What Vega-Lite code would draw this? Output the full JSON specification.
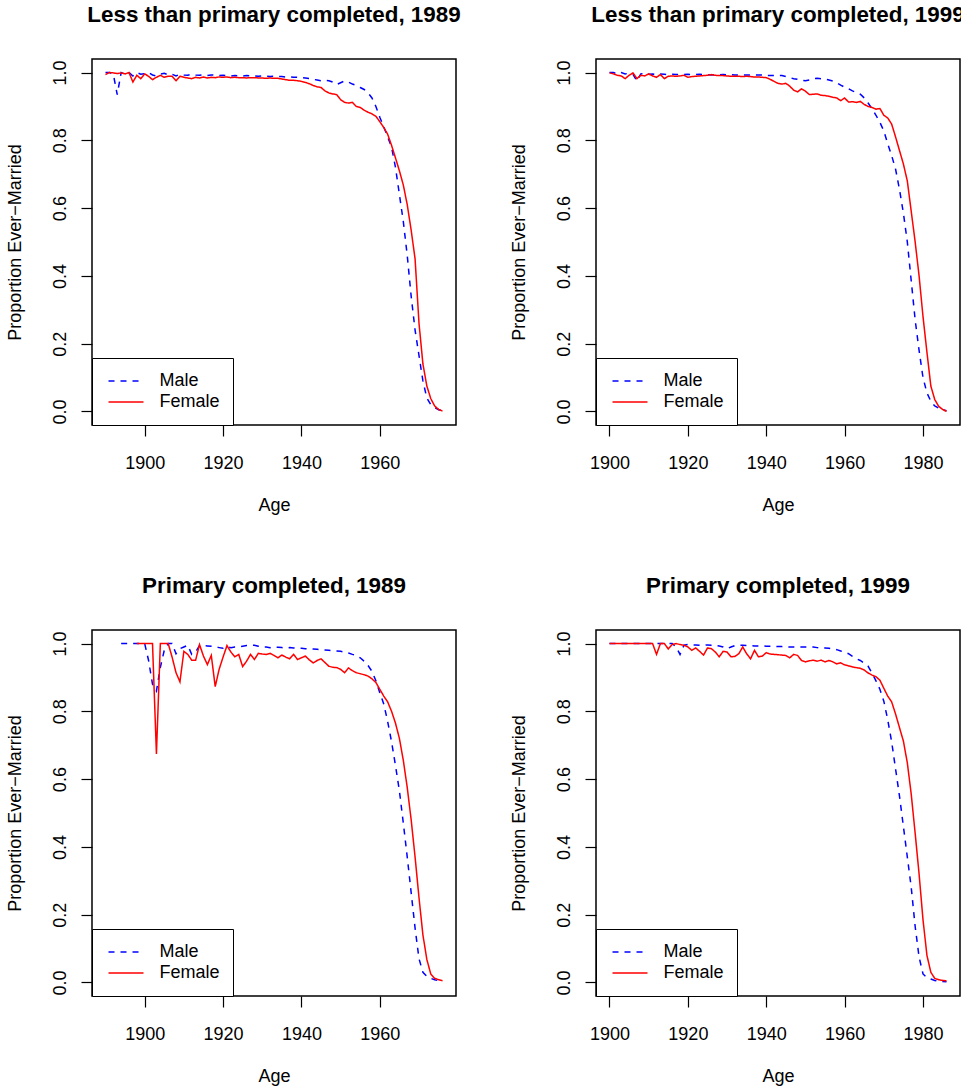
{
  "$schema": "https://vega.github.io/schema/vega-lite/v6.json",
  "background": "white",
  "padding": {"left": 5, "top": 2, "right": 0, "bottom": 0},
  "config": {
    "font": "Liberation Sans",
    "view": {"stroke": "black", "strokeWidth": 1.5},
    "axis": {"domain": false, "grid": false, "ticks": true, "tickColor": "black", "tickSize": 11, "tickWidth": 1.2, "labelFont": "Liberation Sans", "labelFontSize": 18, "labelColor": "black", "titleFont": "Liberation Sans", "titleFontSize": 18, "titleFontWeight": "normal", "titleColor": "black", "labelFlush": false, "labelOverlap": false},
    "axisX": {"labelBaseline": "alphabetic", "labelPadding": 32, "titleBaseline": "alphabetic", "titleY": 85},
    "axisY": {"labelAngle": -90, "labelAlign": "center", "labelBaseline": "alphabetic", "labelPadding": 15.4, "titleX": -72, "titleBaseline": "alphabetic", "titleAlign": "center"},
    "title": {"font": "Liberation Sans", "fontSize": 22.4, "fontWeight": "bold", "color": "black", "anchor": "middle", "baseline": "alphabetic", "offset": 33, "frame": "group"},
    "legend": {"orient": "bottom-left", "offset": 0, "padding": 12.5, "clipHeight": 21, "rowPadding": 0, "labelOffset": 15, "symbolOffset": 3, "strokeColor": "black", "fillColor": "white", "labelFont": "Liberation Sans", "labelFontSize": 18, "labelColor": "black", "symbolType": "stroke", "symbolSize": 1225, "symbolStrokeWidth": 1.5},
    "line": {"strokeWidth": 1.5}
  },
  "datasets": {
    "a": [
{"x":1890,"s":"Male","y":1.0},{"x":1891,"s":"Male","y":1.0},{"x":1892,"s":"Male","y":0.995},{"x":1893,"s":"Male","y":0.935},{"x":1894,"s":"Male","y":1.0},{"x":1895,"s":"Male","y":0.995},{"x":1896,"s":"Male","y":1.0},{"x":1897,"s":"Male","y":0.99},{"x":1898,"s":"Male","y":1.0},{"x":1899,"s":"Male","y":0.995},
{"x":1900,"s":"Male","y":0.997},{"x":1901,"s":"Male","y":1.0},{"x":1902,"s":"Male","y":0.993},{"x":1903,"s":"Male","y":0.99},{"x":1904,"s":"Male","y":0.995},{"x":1905,"s":"Male","y":0.998},{"x":1906,"s":"Male","y":0.993},{"x":1907,"s":"Male","y":0.995},{"x":1908,"s":"Male","y":0.99},{"x":1909,"s":"Male","y":0.995},
{"x":1910,"s":"Male","y":0.993},{"x":1911,"s":"Male","y":0.992},{"x":1912,"s":"Male","y":0.995},{"x":1913,"s":"Male","y":0.993},{"x":1914,"s":"Male","y":0.992},{"x":1915,"s":"Male","y":0.993},{"x":1916,"s":"Male","y":0.991},{"x":1917,"s":"Male","y":0.993},{"x":1918,"s":"Male","y":0.992},{"x":1919,"s":"Male","y":0.991},
{"x":1920,"s":"Male","y":0.992},{"x":1921,"s":"Male","y":0.991},{"x":1922,"s":"Male","y":0.99},{"x":1923,"s":"Male","y":0.991},{"x":1924,"s":"Male","y":0.99},{"x":1925,"s":"Male","y":0.99},{"x":1926,"s":"Male","y":0.991},{"x":1927,"s":"Male","y":0.99},{"x":1928,"s":"Male","y":0.99},{"x":1929,"s":"Male","y":0.989},
{"x":1930,"s":"Male","y":0.99},{"x":1931,"s":"Male","y":0.989},{"x":1932,"s":"Male","y":0.988},{"x":1933,"s":"Male","y":0.989},{"x":1934,"s":"Male","y":0.988},{"x":1935,"s":"Male","y":0.988},{"x":1936,"s":"Male","y":0.987},{"x":1937,"s":"Male","y":0.987},{"x":1938,"s":"Male","y":0.986},{"x":1939,"s":"Male","y":0.986},
{"x":1940,"s":"Male","y":0.985},{"x":1941,"s":"Male","y":0.984},{"x":1942,"s":"Male","y":0.982},{"x":1943,"s":"Male","y":0.98},{"x":1944,"s":"Male","y":0.978},{"x":1945,"s":"Male","y":0.976},{"x":1946,"s":"Male","y":0.977},{"x":1947,"s":"Male","y":0.976},{"x":1948,"s":"Male","y":0.972},{"x":1949,"s":"Male","y":0.965},
{"x":1950,"s":"Male","y":0.97},{"x":1951,"s":"Male","y":0.975},{"x":1952,"s":"Male","y":0.972},{"x":1953,"s":"Male","y":0.966},{"x":1954,"s":"Male","y":0.962},{"x":1955,"s":"Male","y":0.956},{"x":1956,"s":"Male","y":0.95},{"x":1957,"s":"Male","y":0.94},{"x":1958,"s":"Male","y":0.925},{"x":1959,"s":"Male","y":0.9},
{"x":1960,"s":"Male","y":0.868},{"x":1961,"s":"Male","y":0.84},{"x":1962,"s":"Male","y":0.81},{"x":1963,"s":"Male","y":0.78},{"x":1964,"s":"Male","y":0.72},{"x":1965,"s":"Male","y":0.64},{"x":1966,"s":"Male","y":0.56},{"x":1967,"s":"Male","y":0.46},{"x":1968,"s":"Male","y":0.34},{"x":1969,"s":"Male","y":0.24},
{"x":1970,"s":"Male","y":0.165},{"x":1971,"s":"Male","y":0.09},{"x":1972,"s":"Male","y":0.04},{"x":1973,"s":"Male","y":0.02},{"x":1974,"s":"Male","y":0.012},{"x":1975,"s":"Male","y":0.005},{"x":1976,"s":"Male","y":0.002},
{"x":1890,"s":"Female","y":0.994},{"x":1891,"s":"Female","y":1.0},{"x":1892,"s":"Female","y":0.999},{"x":1893,"s":"Female","y":0.997},{"x":1894,"s":"Female","y":0.999},{"x":1895,"s":"Female","y":0.996},{"x":1896,"s":"Female","y":1.0},{"x":1897,"s":"Female","y":0.972},{"x":1898,"s":"Female","y":0.992},{"x":1899,"s":"Female","y":0.982},
{"x":1900,"s":"Female","y":0.996},{"x":1901,"s":"Female","y":0.989},{"x":1902,"s":"Female","y":0.979},{"x":1903,"s":"Female","y":0.986},{"x":1904,"s":"Female","y":0.992},{"x":1905,"s":"Female","y":0.986},{"x":1906,"s":"Female","y":0.989},{"x":1907,"s":"Female","y":0.989},{"x":1908,"s":"Female","y":0.976},{"x":1909,"s":"Female","y":0.989},
{"x":1910,"s":"Female","y":0.986},{"x":1911,"s":"Female","y":0.984},{"x":1912,"s":"Female","y":0.982},{"x":1913,"s":"Female","y":0.986},{"x":1914,"s":"Female","y":0.984},{"x":1915,"s":"Female","y":0.987},{"x":1916,"s":"Female","y":0.984},{"x":1917,"s":"Female","y":0.986},{"x":1918,"s":"Female","y":0.985},{"x":1919,"s":"Female","y":0.987},
{"x":1920,"s":"Female","y":0.986},{"x":1921,"s":"Female","y":0.987},{"x":1922,"s":"Female","y":0.985},{"x":1923,"s":"Female","y":0.986},{"x":1924,"s":"Female","y":0.985},{"x":1925,"s":"Female","y":0.985},{"x":1926,"s":"Female","y":0.984},{"x":1927,"s":"Female","y":0.985},{"x":1928,"s":"Female","y":0.985},{"x":1929,"s":"Female","y":0.984},
{"x":1930,"s":"Female","y":0.984},{"x":1931,"s":"Female","y":0.983},{"x":1932,"s":"Female","y":0.984},{"x":1933,"s":"Female","y":0.983},{"x":1934,"s":"Female","y":0.983},{"x":1935,"s":"Female","y":0.981},{"x":1936,"s":"Female","y":0.979},{"x":1937,"s":"Female","y":0.977},{"x":1938,"s":"Female","y":0.977},{"x":1939,"s":"Female","y":0.976},
{"x":1940,"s":"Female","y":0.974},{"x":1941,"s":"Female","y":0.971},{"x":1942,"s":"Female","y":0.967},{"x":1943,"s":"Female","y":0.962},{"x":1944,"s":"Female","y":0.958},{"x":1945,"s":"Female","y":0.956},{"x":1946,"s":"Female","y":0.946},{"x":1947,"s":"Female","y":0.94},{"x":1948,"s":"Female","y":0.937},{"x":1949,"s":"Female","y":0.935},
{"x":1950,"s":"Female","y":0.92},{"x":1951,"s":"Female","y":0.912},{"x":1952,"s":"Female","y":0.91},{"x":1953,"s":"Female","y":0.912},{"x":1954,"s":"Female","y":0.9},{"x":1955,"s":"Female","y":0.897},{"x":1956,"s":"Female","y":0.889},{"x":1957,"s":"Female","y":0.883},{"x":1958,"s":"Female","y":0.878},{"x":1959,"s":"Female","y":0.871},
{"x":1960,"s":"Female","y":0.855},{"x":1961,"s":"Female","y":0.838},{"x":1962,"s":"Female","y":0.818},{"x":1963,"s":"Female","y":0.785},{"x":1964,"s":"Female","y":0.748},{"x":1965,"s":"Female","y":0.71},{"x":1966,"s":"Female","y":0.668},{"x":1967,"s":"Female","y":0.61},{"x":1968,"s":"Female","y":0.535},{"x":1969,"s":"Female","y":0.45},
{"x":1970,"s":"Female","y":0.26},{"x":1971,"s":"Female","y":0.14},{"x":1972,"s":"Female","y":0.075},{"x":1973,"s":"Female","y":0.038},{"x":1974,"s":"Female","y":0.016},{"x":1975,"s":"Female","y":0.006},{"x":1976,"s":"Female","y":0.001}
    ],
    "b": [
{"x":1900,"s":"Male","y":1.0},{"x":1901,"s":"Male","y":1.0},{"x":1902,"s":"Male","y":0.996},{"x":1903,"s":"Male","y":1.0},{"x":1904,"s":"Male","y":0.996},{"x":1905,"s":"Male","y":0.998},{"x":1906,"s":"Male","y":0.995},{"x":1907,"s":"Male","y":0.975},{"x":1908,"s":"Male","y":0.996},{"x":1909,"s":"Male","y":0.998},
{"x":1910,"s":"Male","y":0.995},{"x":1911,"s":"Male","y":0.996},{"x":1912,"s":"Male","y":0.994},{"x":1913,"s":"Male","y":0.996},{"x":1914,"s":"Male","y":0.995},{"x":1915,"s":"Male","y":0.994},{"x":1916,"s":"Male","y":0.995},{"x":1917,"s":"Male","y":0.994},{"x":1918,"s":"Male","y":0.995},{"x":1919,"s":"Male","y":0.994},
{"x":1920,"s":"Male","y":0.995},{"x":1921,"s":"Male","y":0.994},{"x":1922,"s":"Male","y":0.994},{"x":1923,"s":"Male","y":0.995},{"x":1924,"s":"Male","y":0.994},{"x":1925,"s":"Male","y":0.994},{"x":1926,"s":"Male","y":0.993},{"x":1927,"s":"Male","y":0.994},{"x":1928,"s":"Male","y":0.993},{"x":1929,"s":"Male","y":0.994},
{"x":1930,"s":"Male","y":0.993},{"x":1931,"s":"Male","y":0.994},{"x":1932,"s":"Male","y":0.993},{"x":1933,"s":"Male","y":0.993},{"x":1934,"s":"Male","y":0.993},{"x":1935,"s":"Male","y":0.993},{"x":1936,"s":"Male","y":0.993},{"x":1937,"s":"Male","y":0.993},{"x":1938,"s":"Male","y":0.993},{"x":1939,"s":"Male","y":0.993},
{"x":1940,"s":"Male","y":0.991},{"x":1941,"s":"Male","y":0.991},{"x":1942,"s":"Male","y":0.991},{"x":1943,"s":"Male","y":0.991},{"x":1944,"s":"Male","y":0.991},{"x":1945,"s":"Male","y":0.988},{"x":1946,"s":"Male","y":0.985},{"x":1947,"s":"Male","y":0.982},{"x":1948,"s":"Male","y":0.98},{"x":1949,"s":"Male","y":0.977},
{"x":1950,"s":"Male","y":0.976},{"x":1951,"s":"Male","y":0.978},{"x":1952,"s":"Male","y":0.982},{"x":1953,"s":"Male","y":0.983},{"x":1954,"s":"Male","y":0.982},{"x":1955,"s":"Male","y":0.981},{"x":1956,"s":"Male","y":0.978},{"x":1957,"s":"Male","y":0.975},{"x":1958,"s":"Male","y":0.97},{"x":1959,"s":"Male","y":0.963},
{"x":1960,"s":"Male","y":0.957},{"x":1961,"s":"Male","y":0.952},{"x":1962,"s":"Male","y":0.946},{"x":1963,"s":"Male","y":0.941},{"x":1964,"s":"Male","y":0.936},{"x":1965,"s":"Male","y":0.925},{"x":1966,"s":"Male","y":0.91},{"x":1967,"s":"Male","y":0.893},{"x":1968,"s":"Male","y":0.874},{"x":1969,"s":"Male","y":0.853},
{"x":1970,"s":"Male","y":0.828},{"x":1971,"s":"Male","y":0.79},{"x":1972,"s":"Male","y":0.755},{"x":1973,"s":"Male","y":0.715},{"x":1974,"s":"Male","y":0.655},{"x":1975,"s":"Male","y":0.585},{"x":1976,"s":"Male","y":0.5},{"x":1977,"s":"Male","y":0.385},{"x":1978,"s":"Male","y":0.27},{"x":1979,"s":"Male","y":0.18},
{"x":1980,"s":"Male","y":0.1},{"x":1981,"s":"Male","y":0.055},{"x":1982,"s":"Male","y":0.03},{"x":1983,"s":"Male","y":0.016},{"x":1984,"s":"Male","y":0.01},{"x":1985,"s":"Male","y":0.005},{"x":1986,"s":"Male","y":0.002},
{"x":1900,"s":"Female","y":0.999},{"x":1901,"s":"Female","y":0.996},{"x":1902,"s":"Female","y":0.992},{"x":1903,"s":"Female","y":0.99},{"x":1904,"s":"Female","y":0.982},{"x":1905,"s":"Female","y":0.992},{"x":1906,"s":"Female","y":0.999},{"x":1907,"s":"Female","y":0.982},{"x":1908,"s":"Female","y":0.992},{"x":1909,"s":"Female","y":0.99},
{"x":1910,"s":"Female","y":0.996},{"x":1911,"s":"Female","y":0.99},{"x":1912,"s":"Female","y":0.986},{"x":1913,"s":"Female","y":0.994},{"x":1914,"s":"Female","y":0.982},{"x":1915,"s":"Female","y":0.989},{"x":1916,"s":"Female","y":0.99},{"x":1917,"s":"Female","y":0.989},{"x":1918,"s":"Female","y":0.99},{"x":1919,"s":"Female","y":0.992},
{"x":1920,"s":"Female","y":0.986},{"x":1921,"s":"Female","y":0.988},{"x":1922,"s":"Female","y":0.989},{"x":1923,"s":"Female","y":0.99},{"x":1924,"s":"Female","y":0.991},{"x":1925,"s":"Female","y":0.992},{"x":1926,"s":"Female","y":0.994},{"x":1927,"s":"Female","y":0.992},{"x":1928,"s":"Female","y":0.991},{"x":1929,"s":"Female","y":0.991},
{"x":1930,"s":"Female","y":0.99},{"x":1931,"s":"Female","y":0.989},{"x":1932,"s":"Female","y":0.989},{"x":1933,"s":"Female","y":0.989},{"x":1934,"s":"Female","y":0.988},{"x":1935,"s":"Female","y":0.989},{"x":1936,"s":"Female","y":0.988},{"x":1937,"s":"Female","y":0.987},{"x":1938,"s":"Female","y":0.987},{"x":1939,"s":"Female","y":0.986},
{"x":1940,"s":"Female","y":0.985},{"x":1941,"s":"Female","y":0.98},{"x":1942,"s":"Female","y":0.974},{"x":1943,"s":"Female","y":0.968},{"x":1944,"s":"Female","y":0.966},{"x":1945,"s":"Female","y":0.968},{"x":1946,"s":"Female","y":0.96},{"x":1947,"s":"Female","y":0.948},{"x":1948,"s":"Female","y":0.943},{"x":1949,"s":"Female","y":0.952},
{"x":1950,"s":"Female","y":0.945},{"x":1951,"s":"Female","y":0.935},{"x":1952,"s":"Female","y":0.936},{"x":1953,"s":"Female","y":0.937},{"x":1954,"s":"Female","y":0.933},{"x":1955,"s":"Female","y":0.932},{"x":1956,"s":"Female","y":0.93},{"x":1957,"s":"Female","y":0.927},{"x":1958,"s":"Female","y":0.925},{"x":1959,"s":"Female","y":0.917},
{"x":1960,"s":"Female","y":0.925},{"x":1961,"s":"Female","y":0.913},{"x":1962,"s":"Female","y":0.914},{"x":1963,"s":"Female","y":0.912},{"x":1964,"s":"Female","y":0.915},{"x":1965,"s":"Female","y":0.906},{"x":1966,"s":"Female","y":0.9},{"x":1967,"s":"Female","y":0.897},{"x":1968,"s":"Female","y":0.892},{"x":1969,"s":"Female","y":0.894},
{"x":1970,"s":"Female","y":0.874},{"x":1971,"s":"Female","y":0.866},{"x":1972,"s":"Female","y":0.848},{"x":1973,"s":"Female","y":0.81},{"x":1974,"s":"Female","y":0.77},{"x":1975,"s":"Female","y":0.73},{"x":1976,"s":"Female","y":0.68},{"x":1977,"s":"Female","y":0.59},{"x":1978,"s":"Female","y":0.5},{"x":1979,"s":"Female","y":0.4},
{"x":1980,"s":"Female","y":0.28},{"x":1981,"s":"Female","y":0.175},{"x":1982,"s":"Female","y":0.075},{"x":1983,"s":"Female","y":0.035},{"x":1984,"s":"Female","y":0.015},{"x":1985,"s":"Female","y":0.006},{"x":1986,"s":"Female","y":0.0}
    ],
    "c": [
{"x":1894,"s":"Male","y":1.0},{"x":1895,"s":"Male","y":1.0},{"x":1896,"s":"Male","y":1.0},{"x":1897,"s":"Male","y":1.0},{"x":1898,"s":"Male","y":1.0},{"x":1899,"s":"Male","y":1.0},
{"x":1900,"s":"Male","y":1.0},{"x":1901,"s":"Male","y":0.95},{"x":1902,"s":"Male","y":0.88},{"x":1903,"s":"Male","y":0.86},{"x":1904,"s":"Male","y":0.93},{"x":1905,"s":"Male","y":0.98},{"x":1906,"s":"Male","y":1.0},{"x":1907,"s":"Male","y":1.0},{"x":1908,"s":"Male","y":0.97},{"x":1909,"s":"Male","y":0.985},
{"x":1910,"s":"Male","y":0.99},{"x":1911,"s":"Male","y":0.995},{"x":1912,"s":"Male","y":0.968},{"x":1913,"s":"Male","y":0.975},{"x":1914,"s":"Male","y":0.994},{"x":1915,"s":"Male","y":0.994},{"x":1916,"s":"Male","y":0.993},{"x":1917,"s":"Male","y":0.992},{"x":1918,"s":"Male","y":0.99},{"x":1919,"s":"Male","y":0.988},
{"x":1920,"s":"Male","y":0.986},{"x":1921,"s":"Male","y":0.99},{"x":1922,"s":"Male","y":0.988},{"x":1923,"s":"Male","y":0.99},{"x":1924,"s":"Male","y":0.99},{"x":1925,"s":"Male","y":0.992},{"x":1926,"s":"Male","y":0.994},{"x":1927,"s":"Male","y":0.995},{"x":1928,"s":"Male","y":0.995},{"x":1929,"s":"Male","y":0.992},
{"x":1930,"s":"Male","y":0.99},{"x":1931,"s":"Male","y":0.99},{"x":1932,"s":"Male","y":0.988},{"x":1933,"s":"Male","y":0.99},{"x":1934,"s":"Male","y":0.989},{"x":1935,"s":"Male","y":0.988},{"x":1936,"s":"Male","y":0.987},{"x":1937,"s":"Male","y":0.988},{"x":1938,"s":"Male","y":0.987},{"x":1939,"s":"Male","y":0.986},
{"x":1940,"s":"Male","y":0.986},{"x":1941,"s":"Male","y":0.985},{"x":1942,"s":"Male","y":0.985},{"x":1943,"s":"Male","y":0.984},{"x":1944,"s":"Male","y":0.983},{"x":1945,"s":"Male","y":0.982},{"x":1946,"s":"Male","y":0.981},{"x":1947,"s":"Male","y":0.98},{"x":1948,"s":"Male","y":0.979},{"x":1949,"s":"Male","y":0.978},
{"x":1950,"s":"Male","y":0.977},{"x":1951,"s":"Male","y":0.975},{"x":1952,"s":"Male","y":0.972},{"x":1953,"s":"Male","y":0.968},{"x":1954,"s":"Male","y":0.965},{"x":1955,"s":"Male","y":0.958},{"x":1956,"s":"Male","y":0.948},{"x":1957,"s":"Male","y":0.935},{"x":1958,"s":"Male","y":0.918},{"x":1959,"s":"Male","y":0.89},
{"x":1960,"s":"Male","y":0.855},{"x":1961,"s":"Male","y":0.822},{"x":1962,"s":"Male","y":0.77},{"x":1963,"s":"Male","y":0.71},{"x":1964,"s":"Male","y":0.64},{"x":1965,"s":"Male","y":0.565},{"x":1966,"s":"Male","y":0.47},{"x":1967,"s":"Male","y":0.37},{"x":1968,"s":"Male","y":0.265},{"x":1969,"s":"Male","y":0.16},
{"x":1970,"s":"Male","y":0.07},{"x":1971,"s":"Male","y":0.03},{"x":1972,"s":"Male","y":0.018},{"x":1973,"s":"Male","y":0.012},{"x":1974,"s":"Male","y":0.008},{"x":1975,"s":"Male","y":0.005},{"x":1976,"s":"Male","y":0.003},
{"x":1898,"s":"Female","y":1.0},{"x":1899,"s":"Female","y":1.0},
{"x":1900,"s":"Female","y":1.0},{"x":1901,"s":"Female","y":1.0},{"x":1902,"s":"Female","y":1.0},{"x":1903,"s":"Female","y":0.674},{"x":1904,"s":"Female","y":1.0},{"x":1905,"s":"Female","y":1.0},{"x":1906,"s":"Female","y":1.0},{"x":1907,"s":"Female","y":0.96},{"x":1908,"s":"Female","y":0.914},{"x":1909,"s":"Female","y":0.887},
{"x":1910,"s":"Female","y":0.977},{"x":1911,"s":"Female","y":0.968},{"x":1912,"s":"Female","y":0.951},{"x":1913,"s":"Female","y":0.951},{"x":1914,"s":"Female","y":0.997},{"x":1915,"s":"Female","y":0.963},{"x":1916,"s":"Female","y":0.938},{"x":1917,"s":"Female","y":0.965},{"x":1918,"s":"Female","y":0.873},{"x":1919,"s":"Female","y":0.924},
{"x":1920,"s":"Female","y":0.96},{"x":1921,"s":"Female","y":0.994},{"x":1922,"s":"Female","y":0.975},{"x":1923,"s":"Female","y":0.961},{"x":1924,"s":"Female","y":0.968},{"x":1925,"s":"Female","y":0.932},{"x":1926,"s":"Female","y":0.948},{"x":1927,"s":"Female","y":0.968},{"x":1928,"s":"Female","y":0.953},{"x":1929,"s":"Female","y":0.971},
{"x":1930,"s":"Female","y":0.969},{"x":1931,"s":"Female","y":0.968},{"x":1932,"s":"Female","y":0.971},{"x":1933,"s":"Female","y":0.965},{"x":1934,"s":"Female","y":0.958},{"x":1935,"s":"Female","y":0.966},{"x":1936,"s":"Female","y":0.96},{"x":1937,"s":"Female","y":0.955},{"x":1938,"s":"Female","y":0.968},{"x":1939,"s":"Female","y":0.953},
{"x":1940,"s":"Female","y":0.958},{"x":1941,"s":"Female","y":0.963},{"x":1942,"s":"Female","y":0.952},{"x":1943,"s":"Female","y":0.943},{"x":1944,"s":"Female","y":0.95},{"x":1945,"s":"Female","y":0.955},{"x":1946,"s":"Female","y":0.944},{"x":1947,"s":"Female","y":0.933},{"x":1948,"s":"Female","y":0.93},{"x":1949,"s":"Female","y":0.929},
{"x":1950,"s":"Female","y":0.924},{"x":1951,"s":"Female","y":0.914},{"x":1952,"s":"Female","y":0.928},{"x":1953,"s":"Female","y":0.92},{"x":1954,"s":"Female","y":0.914},{"x":1955,"s":"Female","y":0.911},{"x":1956,"s":"Female","y":0.908},{"x":1957,"s":"Female","y":0.904},{"x":1958,"s":"Female","y":0.896},{"x":1959,"s":"Female","y":0.885},
{"x":1960,"s":"Female","y":0.865},{"x":1961,"s":"Female","y":0.845},{"x":1962,"s":"Female","y":0.828},{"x":1963,"s":"Female","y":0.8},{"x":1964,"s":"Female","y":0.765},{"x":1965,"s":"Female","y":0.72},{"x":1966,"s":"Female","y":0.655},{"x":1967,"s":"Female","y":0.575},{"x":1968,"s":"Female","y":0.48},{"x":1969,"s":"Female","y":0.37},
{"x":1970,"s":"Female","y":0.25},{"x":1971,"s":"Female","y":0.14},{"x":1972,"s":"Female","y":0.068},{"x":1973,"s":"Female","y":0.025},{"x":1974,"s":"Female","y":0.012},{"x":1975,"s":"Female","y":0.008},{"x":1976,"s":"Female","y":0.005}
    ],
    "d": [
{"x":1900,"s":"Male","y":1.0},{"x":1901,"s":"Male","y":1.0},{"x":1902,"s":"Male","y":1.0},{"x":1903,"s":"Male","y":1.0},{"x":1904,"s":"Male","y":1.0},{"x":1905,"s":"Male","y":1.0},{"x":1906,"s":"Male","y":1.0},{"x":1907,"s":"Male","y":1.0},{"x":1908,"s":"Male","y":1.0},{"x":1909,"s":"Male","y":1.0},
{"x":1910,"s":"Male","y":1.0},{"x":1911,"s":"Male","y":1.0},{"x":1912,"s":"Male","y":1.0},{"x":1913,"s":"Male","y":1.0},{"x":1914,"s":"Male","y":1.0},{"x":1915,"s":"Male","y":1.0},{"x":1916,"s":"Male","y":1.0},{"x":1917,"s":"Male","y":0.99},{"x":1918,"s":"Male","y":0.968},{"x":1919,"s":"Male","y":0.995},
{"x":1920,"s":"Male","y":0.997},{"x":1921,"s":"Male","y":0.996},{"x":1922,"s":"Male","y":0.996},{"x":1923,"s":"Male","y":0.995},{"x":1924,"s":"Male","y":0.995},{"x":1925,"s":"Male","y":0.996},{"x":1926,"s":"Male","y":0.995},{"x":1927,"s":"Male","y":0.995},{"x":1928,"s":"Male","y":0.993},{"x":1929,"s":"Male","y":0.99},
{"x":1930,"s":"Male","y":0.985},{"x":1931,"s":"Male","y":0.99},{"x":1932,"s":"Male","y":0.994},{"x":1933,"s":"Male","y":0.995},{"x":1934,"s":"Male","y":0.995},{"x":1935,"s":"Male","y":0.994},{"x":1936,"s":"Male","y":0.994},{"x":1937,"s":"Male","y":0.993},{"x":1938,"s":"Male","y":0.993},{"x":1939,"s":"Male","y":0.993},
{"x":1940,"s":"Male","y":0.992},{"x":1941,"s":"Male","y":0.992},{"x":1942,"s":"Male","y":0.992},{"x":1943,"s":"Male","y":0.991},{"x":1944,"s":"Male","y":0.991},{"x":1945,"s":"Male","y":0.99},{"x":1946,"s":"Male","y":0.99},{"x":1947,"s":"Male","y":0.99},{"x":1948,"s":"Male","y":0.99},{"x":1949,"s":"Male","y":0.99},
{"x":1950,"s":"Male","y":0.99},{"x":1951,"s":"Male","y":0.99},{"x":1952,"s":"Male","y":0.99},{"x":1953,"s":"Male","y":0.988},{"x":1954,"s":"Male","y":0.986},{"x":1955,"s":"Male","y":0.987},{"x":1956,"s":"Male","y":0.986},{"x":1957,"s":"Male","y":0.984},{"x":1958,"s":"Male","y":0.982},{"x":1959,"s":"Male","y":0.978},
{"x":1960,"s":"Male","y":0.975},{"x":1961,"s":"Male","y":0.97},{"x":1962,"s":"Male","y":0.962},{"x":1963,"s":"Male","y":0.955},{"x":1964,"s":"Male","y":0.95},{"x":1965,"s":"Male","y":0.942},{"x":1966,"s":"Male","y":0.933},{"x":1967,"s":"Male","y":0.913},{"x":1968,"s":"Male","y":0.89},{"x":1969,"s":"Male","y":0.865},
{"x":1970,"s":"Male","y":0.83},{"x":1971,"s":"Male","y":0.775},{"x":1972,"s":"Male","y":0.71},{"x":1973,"s":"Male","y":0.63},{"x":1974,"s":"Male","y":0.55},{"x":1975,"s":"Male","y":0.46},{"x":1976,"s":"Male","y":0.37},{"x":1977,"s":"Male","y":0.28},{"x":1978,"s":"Male","y":0.165},{"x":1979,"s":"Male","y":0.075},
{"x":1980,"s":"Male","y":0.025},{"x":1981,"s":"Male","y":0.014},{"x":1982,"s":"Male","y":0.01},{"x":1983,"s":"Male","y":0.006},{"x":1984,"s":"Male","y":0.004},{"x":1985,"s":"Male","y":0.003},{"x":1986,"s":"Male","y":0.002},
{"x":1900,"s":"Female","y":1.0},{"x":1901,"s":"Female","y":1.0},{"x":1902,"s":"Female","y":1.0},{"x":1903,"s":"Female","y":1.0},{"x":1904,"s":"Female","y":1.0},{"x":1905,"s":"Female","y":1.0},{"x":1906,"s":"Female","y":1.0},{"x":1907,"s":"Female","y":1.0},{"x":1908,"s":"Female","y":1.0},{"x":1909,"s":"Female","y":1.0},
{"x":1910,"s":"Female","y":1.0},{"x":1911,"s":"Female","y":1.0},{"x":1912,"s":"Female","y":0.968},{"x":1913,"s":"Female","y":1.0},{"x":1914,"s":"Female","y":1.0},{"x":1915,"s":"Female","y":0.984},{"x":1916,"s":"Female","y":0.997},{"x":1917,"s":"Female","y":1.0},{"x":1918,"s":"Female","y":0.997},{"x":1919,"s":"Female","y":0.995},
{"x":1920,"s":"Female","y":0.99},{"x":1921,"s":"Female","y":0.98},{"x":1922,"s":"Female","y":0.987},{"x":1923,"s":"Female","y":0.977},{"x":1924,"s":"Female","y":0.966},{"x":1925,"s":"Female","y":0.987},{"x":1926,"s":"Female","y":0.985},{"x":1927,"s":"Female","y":0.975},{"x":1928,"s":"Female","y":0.961},{"x":1929,"s":"Female","y":0.977},
{"x":1930,"s":"Female","y":0.975},{"x":1931,"s":"Female","y":0.961},{"x":1932,"s":"Female","y":0.962},{"x":1933,"s":"Female","y":0.97},{"x":1934,"s":"Female","y":0.99},{"x":1935,"s":"Female","y":0.97},{"x":1936,"s":"Female","y":0.955},{"x":1937,"s":"Female","y":0.98},{"x":1938,"s":"Female","y":0.961},{"x":1939,"s":"Female","y":0.963},
{"x":1940,"s":"Female","y":0.973},{"x":1941,"s":"Female","y":0.969},{"x":1942,"s":"Female","y":0.968},{"x":1943,"s":"Female","y":0.967},{"x":1944,"s":"Female","y":0.966},{"x":1945,"s":"Female","y":0.965},{"x":1946,"s":"Female","y":0.958},{"x":1947,"s":"Female","y":0.968},{"x":1948,"s":"Female","y":0.965},{"x":1949,"s":"Female","y":0.95},
{"x":1950,"s":"Female","y":0.946},{"x":1951,"s":"Female","y":0.949},{"x":1952,"s":"Female","y":0.951},{"x":1953,"s":"Female","y":0.948},{"x":1954,"s":"Female","y":0.951},{"x":1955,"s":"Female","y":0.946},{"x":1956,"s":"Female","y":0.95},{"x":1957,"s":"Female","y":0.946},{"x":1958,"s":"Female","y":0.94},{"x":1959,"s":"Female","y":0.943},
{"x":1960,"s":"Female","y":0.937},{"x":1961,"s":"Female","y":0.934},{"x":1962,"s":"Female","y":0.931},{"x":1963,"s":"Female","y":0.929},{"x":1964,"s":"Female","y":0.927},{"x":1965,"s":"Female","y":0.922},{"x":1966,"s":"Female","y":0.913},{"x":1967,"s":"Female","y":0.907},{"x":1968,"s":"Female","y":0.902},{"x":1969,"s":"Female","y":0.892},
{"x":1970,"s":"Female","y":0.868},{"x":1971,"s":"Female","y":0.845},{"x":1972,"s":"Female","y":0.828},{"x":1973,"s":"Female","y":0.792},{"x":1974,"s":"Female","y":0.752},{"x":1975,"s":"Female","y":0.712},{"x":1976,"s":"Female","y":0.648},{"x":1977,"s":"Female","y":0.555},{"x":1978,"s":"Female","y":0.44},{"x":1979,"s":"Female","y":0.32},
{"x":1980,"s":"Female","y":0.185},{"x":1981,"s":"Female","y":0.08},{"x":1982,"s":"Female","y":0.03},{"x":1983,"s":"Female","y":0.012},{"x":1984,"s":"Female","y":0.008},{"x":1985,"s":"Female","y":0.006},{"x":1986,"s":"Female","y":0.005}
    ]
  },
  "columns": 2,
  "spacing": {"row": 205, "column": 140},
  "bounds": "flush",
  "resolve": {"scale": {"color": "independent", "strokeDash": "independent"}, "legend": {"color": "independent", "strokeDash": "independent"}},
  "concat": [
    {
      "width": 364, "height": 366,
      "title": "Less than primary completed, 1989",
      "data": {"name": "a"},
      "mark": {"type": "line", "clip": true, "strokeWidth": 1.5},
      "encoding": {
        "x": {"field": "x", "type": "quantitative", "scale": {"domain": [1886.56, 1979.44], "nice": false, "zero": false}, "axis": {"title": "Age", "values": [1900, 1920, 1940, 1960], "format": "d"}},
        "y": {"field": "y", "type": "quantitative", "scale": {"domain": [-0.04, 1.04], "nice": false, "zero": false}, "axis": {"title": "Proportion Ever−Married", "values": [0, 0.2, 0.4, 0.6, 0.8, 1], "format": ".1f"}},
        "color": {"field": "s", "type": "nominal", "scale": {"domain": ["Male", "Female"], "range": ["#0000FF", "#FF0000"]}, "legend": {"title": null}},
        "strokeDash": {"field": "s", "type": "nominal", "scale": {"domain": ["Male", "Female"], "range": [[6, 6], [1, 0]]}, "legend": {"title": null}}
      }
    },
    {
      "width": 364, "height": 366,
      "title": "Less than primary completed, 1999",
      "data": {"name": "b"},
      "mark": {"type": "line", "clip": true, "strokeWidth": 1.5},
      "encoding": {
        "x": {"field": "x", "type": "quantitative", "scale": {"domain": [1896.56, 1989.44], "nice": false, "zero": false}, "axis": {"title": "Age", "values": [1900, 1920, 1940, 1960, 1980], "format": "d"}},
        "y": {"field": "y", "type": "quantitative", "scale": {"domain": [-0.04, 1.04], "nice": false, "zero": false}, "axis": {"title": "Proportion Ever−Married", "values": [0, 0.2, 0.4, 0.6, 0.8, 1], "format": ".1f"}},
        "color": {"field": "s", "type": "nominal", "scale": {"domain": ["Male", "Female"], "range": ["#0000FF", "#FF0000"]}, "legend": {"title": null}},
        "strokeDash": {"field": "s", "type": "nominal", "scale": {"domain": ["Male", "Female"], "range": [[6, 6], [1, 0]]}, "legend": {"title": null}}
      }
    },
    {
      "width": 364, "height": 366,
      "title": "Primary completed, 1989",
      "data": {"name": "c"},
      "mark": {"type": "line", "clip": true, "strokeWidth": 1.5},
      "encoding": {
        "x": {"field": "x", "type": "quantitative", "scale": {"domain": [1886.56, 1979.44], "nice": false, "zero": false}, "axis": {"title": "Age", "values": [1900, 1920, 1940, 1960], "format": "d"}},
        "y": {"field": "y", "type": "quantitative", "scale": {"domain": [-0.04, 1.04], "nice": false, "zero": false}, "axis": {"title": "Proportion Ever−Married", "values": [0, 0.2, 0.4, 0.6, 0.8, 1], "format": ".1f"}},
        "color": {"field": "s", "type": "nominal", "scale": {"domain": ["Male", "Female"], "range": ["#0000FF", "#FF0000"]}, "legend": {"title": null}},
        "strokeDash": {"field": "s", "type": "nominal", "scale": {"domain": ["Male", "Female"], "range": [[6, 6], [1, 0]]}, "legend": {"title": null}}
      }
    },
    {
      "width": 364, "height": 366,
      "title": "Primary completed, 1999",
      "data": {"name": "d"},
      "mark": {"type": "line", "clip": true, "strokeWidth": 1.5},
      "encoding": {
        "x": {"field": "x", "type": "quantitative", "scale": {"domain": [1896.56, 1989.44], "nice": false, "zero": false}, "axis": {"title": "Age", "values": [1900, 1920, 1940, 1960, 1980], "format": "d"}},
        "y": {"field": "y", "type": "quantitative", "scale": {"domain": [-0.04, 1.04], "nice": false, "zero": false}, "axis": {"title": "Proportion Ever−Married", "values": [0, 0.2, 0.4, 0.6, 0.8, 1], "format": ".1f"}},
        "color": {"field": "s", "type": "nominal", "scale": {"domain": ["Male", "Female"], "range": ["#0000FF", "#FF0000"]}, "legend": {"title": null}},
        "strokeDash": {"field": "s", "type": "nominal", "scale": {"domain": ["Male", "Female"], "range": [[6, 6], [1, 0]]}, "legend": {"title": null}}
      }
    }
  ]
}
